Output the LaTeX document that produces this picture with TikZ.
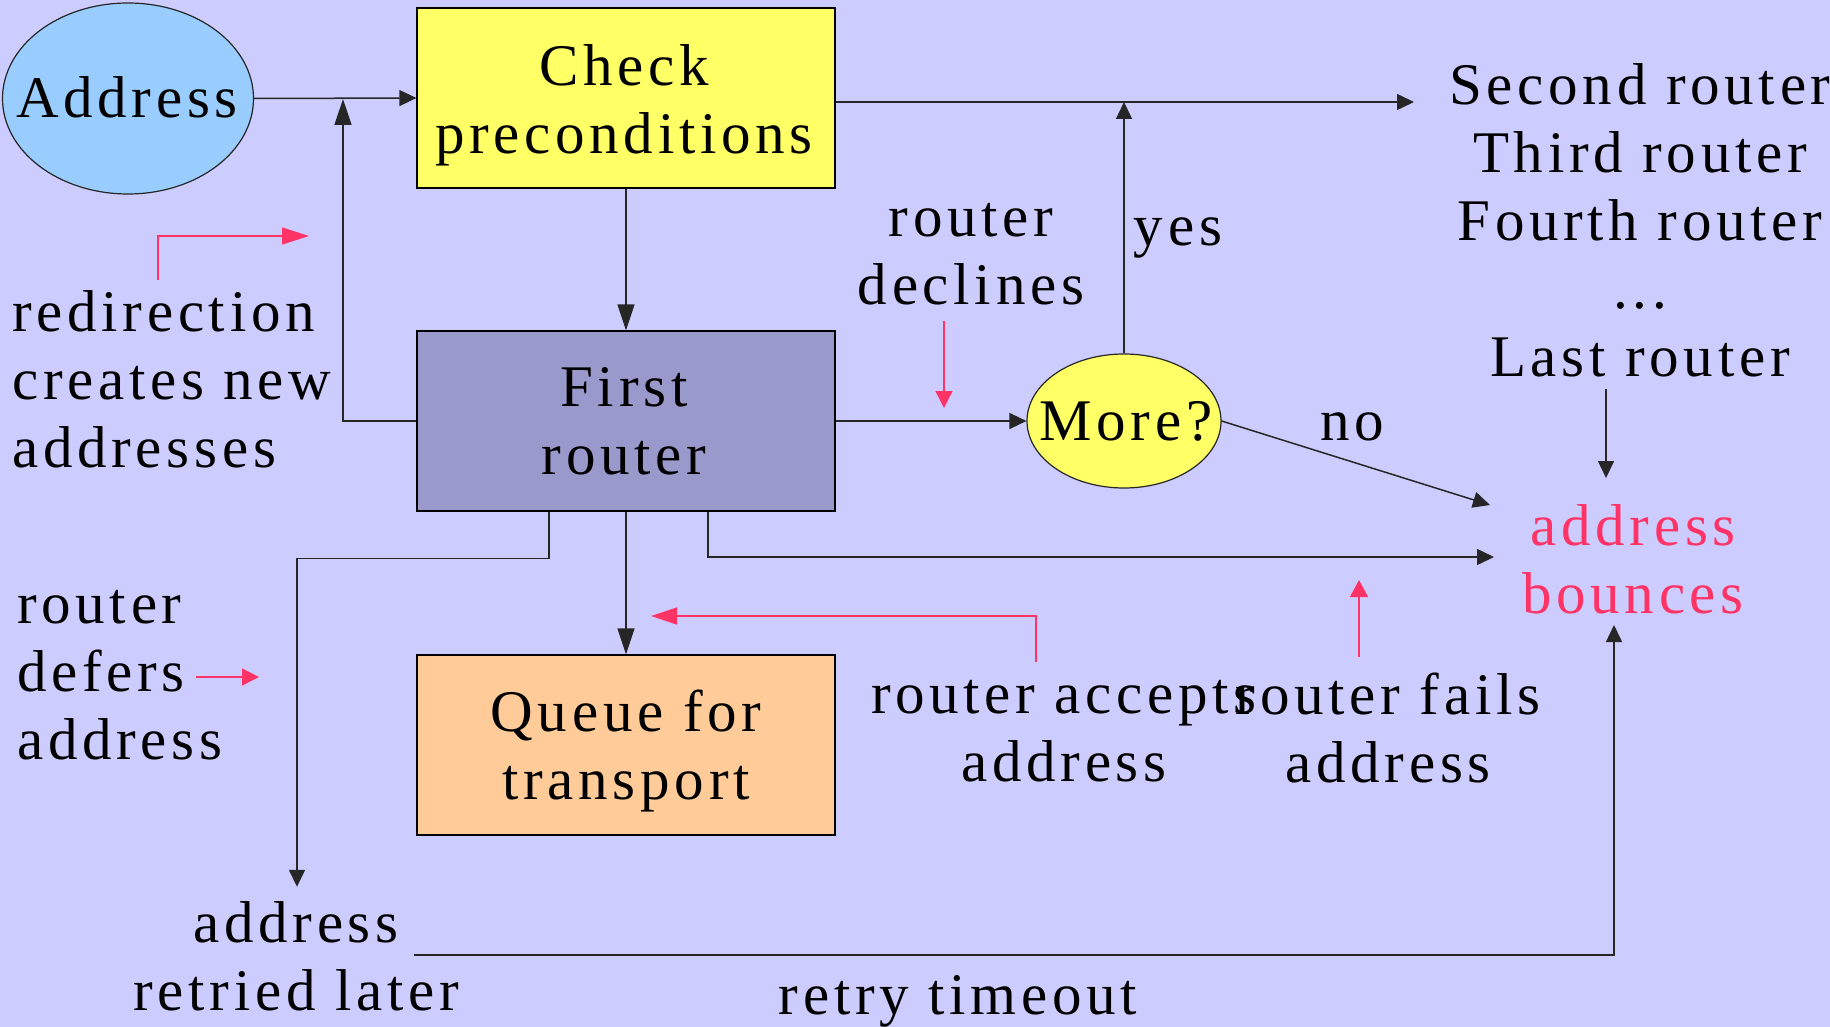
\documentclass[tikz,border=0pt]{standalone}
\usepackage{fontspec}
\setmainfont{Liberation Serif}[LetterSpace=8.0]
\usetikzlibrary{arrows.meta,shapes.geometric}
\definecolor{bgc}{HTML}{CCCCFF}
\definecolor{addrc}{HTML}{99CCFF}
\definecolor{yelc}{HTML}{FFFF66}
\definecolor{firstc}{HTML}{9999CC}
\definecolor{queuec}{HTML}{FFCC99}
\definecolor{accent}{HTML}{FF3366}
\newcommand\Fnt{\fontsize{59}{68}\selectfont}
\begin{document}
\begin{tikzpicture}[x=1pt,y=-1pt,
  conn/.style={draw=black!85, line width=1.5pt},
  tip/.style={-{Triangle[length=17pt,width=16pt]}},
  longtip/.style={-{Triangle[length=26pt,width=17pt]}},
  redarr/.style={draw=accent, line width=1.3pt, fill=none},
  box/.style={draw=black, line width=1.3pt, minimum width=418pt, minimum height=180pt, inner sep=0pt},
  oval/.style={ellipse, draw=black!85, line width=1.2pt, inner sep=0pt},
  lbl/.style={font=\Fnt, inner sep=0pt, align=center},
]
\useasboundingbox[fill=bgc] (0,0) rectangle (1830,1027);

% shapes
\node[oval, fill=addrc, minimum width=251pt, minimum height=191pt] (addr) at (128,98.5) {};
\node[box, fill=yelc] (check) at (626,98) {};
\node[box, fill=firstc] (first) at (626,421) {};
\node[box, fill=queuec] (queue) at (626,745) {};
\node[oval, fill=yelc, minimum width=194pt, minimum height=134pt] (more) at (1124,421) {};

% texts
\node[lbl] (addrT) at (127,104) {\strut Address};
\node[lbl] (checkT) at (624,105.5) {\strut Check\\\strut preconditions};
\node[lbl] (firstT) at (624,427) {\strut First\\\strut router};
\node[lbl] (queueT) at (626,751.5) {\strut Queue for\\\strut transport};
\node[lbl] (moreT) at (1126,427) {\strut More?};
\node[lbl] (routersT) at (1640,227) {\strut Second router\\\strut Third router\\\strut Fourth router\\\strut ...\\\strut Last router};
\node[lbl] (declT) at (971,257) {\strut router\\\strut declines};
\node[lbl] (yesT) at (1178,232) {\strut yes};
\node[lbl] (noT) at (1352,427) {\strut no};
\node[lbl, text=accent] (bounceT) at (1633,565.5) {\strut address\\\strut bounces};
\node[lbl, align=left, anchor=west] (redirT) at (12,386) {\strut redirection\\\strut creates new\\\strut addresses};
\node[lbl, align=left, anchor=west] (defersT) at (17,678) {\strut router\\\strut defers\\\strut address};
\node[lbl] (retriedT) at (296,963) {\strut address\\\strut retried later};
\node[lbl] (acceptsT) at (1064,733.5) {\strut router accepts\\\strut address};
\node[lbl] (failsT) at (1388,735) {\strut router fails\\\strut address};
\node[lbl] (timeoutT) at (958,1001) {\strut retry timeout};

% coordinates for free ends
\coordinate (redirJ) at (343,99);
\coordinate (srJ) at (1414,102);
\coordinate (noEnd) at (1490,505);
\coordinate (lastOut) at (1606,389);
\coordinate (bIn1) at (1606,478);
\coordinate (bIn2) at (1494,557);
\coordinate (timeStart) at (414,955);
\coordinate (bIn3) at (1614,625);

% black connectors
\draw[conn,tip] (addr.east) -- (check.west);
\draw[conn,longtip] (first.west) -| (redirJ);
\draw[conn,longtip] (check.south) -- (first.north);
\draw[conn,tip] (check.east |- srJ) -- (srJ);
\draw[conn,tip] (more.north) -- (more.north |- srJ);
\draw[conn,tip] (first.east) -- (more.west);
\draw[conn,tip] (more.east) -- (noEnd);
\draw[conn,tip] (lastOut) -- (bIn1);
\draw[conn,tip] ([xshift=82pt]first.south) |- (bIn2);
\draw[conn,longtip] (first.south) -- (queue.north);
\draw[conn,tip] ([xshift=-77pt]first.south) -- ++(0,47) -| ([xshift=1pt,yshift=8pt]retriedT.north);
\draw[conn,tip] (timeStart) -| (bIn3);

% red annotation arrows
\coordinate (rA1) at (158,280); \coordinate (rA2) at (309,236);
\draw[redarr,-{Triangle[length=27pt,width=17pt]}] (rA1) |- (rA2);
\coordinate (rB1) at (944,321); \coordinate (rB2) at (944,408);
\draw[redarr,-{Triangle[length=17pt,width=17pt]}] (rB1) -- (rB2);
\coordinate (rC1) at (196,677); \coordinate (rC2) at (259,677);
\draw[redarr,-{Triangle[length=17pt,width=17pt]}] (rC1) -- (rC2);
\coordinate (rD1) at (1036,662); \coordinate (rD2) at (651,616);
\draw[redarr,-{Triangle[length=26pt,width=17pt]}] (rD1) |- (rD2);
\coordinate (rE1) at (1359,657); \coordinate (rE2) at (1359,580);
\draw[redarr,-{Triangle[length=17pt,width=18pt]}] (rE1) -- (rE2);
\end{tikzpicture}
\end{document}
